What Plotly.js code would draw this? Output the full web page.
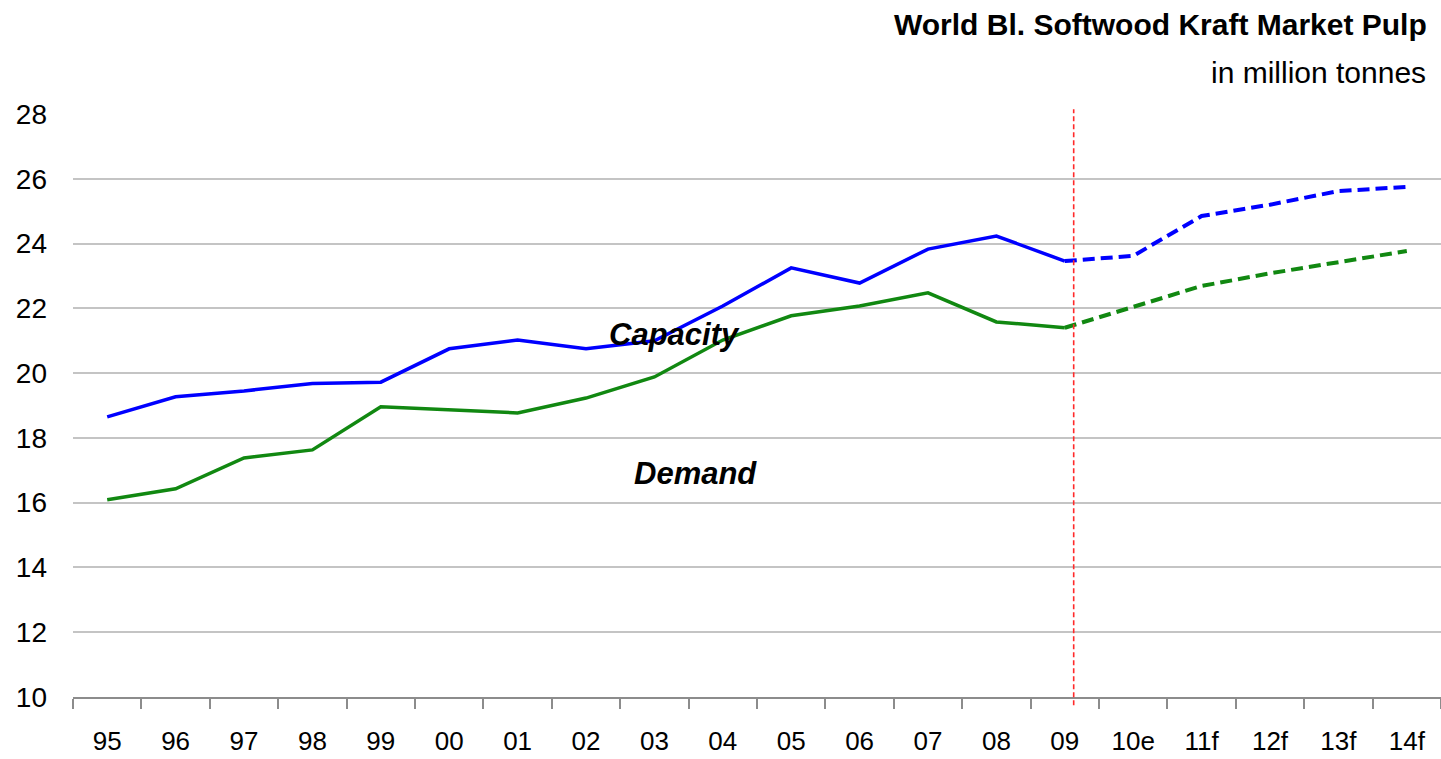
<!DOCTYPE html>
<html>
<head>
<meta charset="utf-8">
<script src="https://cdn.plot.ly/plotly-3.0.1.min.js"></script>
<style>
html,body{margin:0;padding:0;background:#fff;}
#chart{width:1441px;height:759px;}
</style>
</head>
<body>
<div id="chart"></div>
<script>
const years = ["95","96","97","98","99","00","01","02","03","04","05","06","07","08","09","10e","11f","12f","13f","14f"];
const capacity = [18.65,19.27,19.45,19.68,19.72,20.75,21.02,20.75,21.0,22.07,23.25,22.78,23.83,24.23,23.46,23.62,24.85,25.2,25.62,25.75];
const demand = [16.09,16.43,17.38,17.63,18.96,18.86,18.77,19.23,19.88,21.02,21.77,22.07,22.48,21.58,21.40,22.04,22.69,23.08,23.43,23.77];
const splitIndex = 14; // "09": last actual year

const fontFam = '"Liberation Sans", Arial, sans-serif';

function part(arr, from, to){ return arr.slice(from, to); }

const traces = [
  {x: part(years,0,splitIndex+1), y: part(capacity,0,splitIndex+1), type:'scatter', mode:'lines',
   line:{color:'#0000ff', width:3.5}, name:'Capacity', hoverinfo:'x+y'},
  {x: part(years,splitIndex), y: part(capacity,splitIndex), type:'scatter', mode:'lines',
   line:{color:'#0000ff', width:4, dash:'12px,6px'}, name:'Capacity (forecast)', hoverinfo:'x+y'},
  {x: part(years,0,splitIndex+1), y: part(demand,0,splitIndex+1), type:'scatter', mode:'lines',
   line:{color:'#118811', width:3.5}, name:'Demand', hoverinfo:'x+y'},
  {x: part(years,splitIndex), y: part(demand,splitIndex), type:'scatter', mode:'lines',
   line:{color:'#118811', width:4, dash:'12px,6px'}, name:'Demand (forecast)', hoverinfo:'x+y'}
];

const layout = {
  width:1441, height:759,
  margin:{l:73, r:0, t:114, b:62},
  paper_bgcolor:'#fff', plot_bgcolor:'#fff',
  showlegend:false,
  font:{family:fontFam, color:'#000', size:22},
  xaxis:{
    type:'category', categoryorder:'array', categoryarray:years,
    range:[-0.5, 19.5],
    showgrid:false, zeroline:false,
    showline:true, linecolor:'#8c8c8c', linewidth:1.5,
    ticks:'outside', tickson:'boundaries', ticklen:10, tickwidth:1.5, tickcolor:'#8c8c8c',
    tickfont:{family:fontFam, size:26, color:'#000'},
    ticklabelstandoff:20
  },
  yaxis:{
    range:[10,28], dtick:2, tick0:10,
    showgrid:true, gridcolor:'#c4c4c4', gridwidth:1.5,
    zeroline:false, showline:false, ticks:'',
    tickfont:{family:fontFam, size:28, color:'#000'},
    ticklabelstandoff:25
  },
  shapes:[
    {type:'line', xref:'x', yref:'paper', x0:14.13, x1:14.13, y0:-0.014, y1:1.008,
     line:{color:'#ff2a2a', width:1.6, dash:'5px,3px'}, layer:'above'}
  ],
  annotations:[
    {text:'<b>World Bl. Softwood Kraft Market Pulp</b>', xref:'paper', yref:'paper', x:1.0, y:1,
     xanchor:'right', yanchor:'middle', xshift:-12, yshift:114-24, showarrow:false,
     font:{family:fontFam, size:30, color:'#000'}},
    {text:'in million tonnes', xref:'paper', yref:'paper', x:1.0, y:1,
     xanchor:'right', yanchor:'middle', xshift:-13, yshift:114-72, showarrow:false,
     font:{family:fontFam, size:30, color:'#000'}},
    {text:'<b><i>Capacity</i></b>', xref:'x', yref:'y', x:8.3, y:21.2, showarrow:false,
     xanchor:'center', yanchor:'middle',
     font:{family:fontFam, size:31, color:'#000'}},
    {text:'<b><i>Demand</i></b>', xref:'x', yref:'y', x:8.6, y:16.9, showarrow:false,
     xanchor:'center', yanchor:'middle',
     font:{family:fontFam, size:31, color:'#000'}}
  ]
};

Plotly.newPlot('chart', traces, layout, {displayModeBar:false, responsive:false});
</script>
</body>
</html>
